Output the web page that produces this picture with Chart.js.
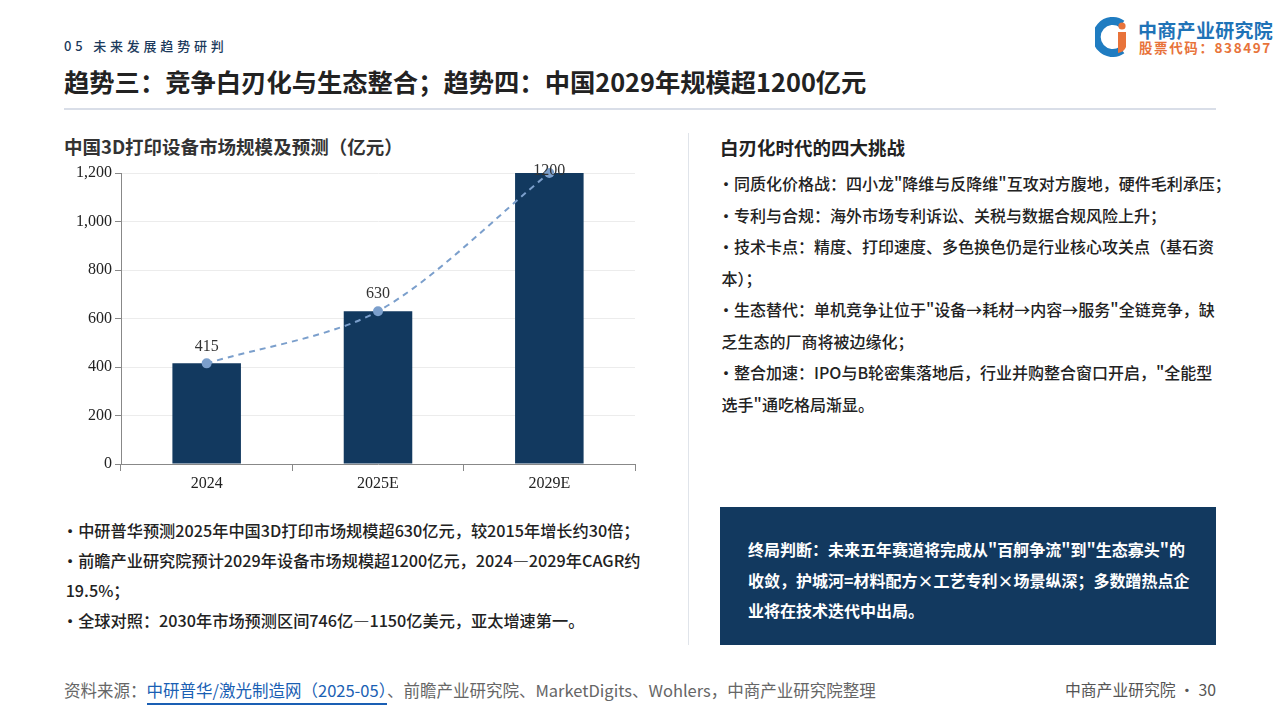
<!DOCTYPE html>
<html lang="zh-CN">
<head>
<meta charset="utf-8">
<title>趋势三：竞争白刃化与生态整合；趋势四：中国2029年规模超1200亿元</title>
<script src="https://cdn.jsdelivr.net/npm/chart.js@4.4.1/dist/chart.umd.min.js"></script>
<style>
  html, body { margin: 0; padding: 0; }
  body {
    width: 1280px; height: 720px; position: relative; overflow: hidden;
    background: #fff; color: #222;
    font-family: "Noto Sans CJK SC", "Noto Sans", sans-serif;
  }
  .abs { position: absolute; white-space: nowrap; }
  .section { left: 64px; top: 36px; font-size: 13px; color: #1b3a5c; letter-spacing: 3.8px; font-weight: 500; }
  .title { left: 64px; top: 63px; font-size: 25.3px; font-weight: 700; color: #222; }
  .rule { left: 64px; top: 108px; width: 1152px; height: 2px; background: #d9dee8; }
  .vrule { left: 688px; top: 133px; width: 1px; height: 512px; background: #e0e4ea; }
  .logo-name { left: 1138px; top: 16px; font-size: 19px; font-weight: 700; color: #1f73b7; letter-spacing: 0.3px; }
  .logo-code { left: 1139px; top: 37px; font-size: 13.5px; font-weight: 700; color: #e8733a; letter-spacing: 1.6px; }
  .chart-title { left: 64px; top: 133px; font-size: 18.5px; font-weight: 600; color: #333; }
  #chartBox { position: absolute; left: 60px; top: 160px; width: 580px; height: 340px; }
  .notes { left: 62px; top: 515px; font-size: 16.2px; line-height: 30px; font-weight: 500; color: #222; }
  .panel-title { left: 720px; top: 134px; font-size: 18.5px; font-weight: 600; color: #222; }
  .challenges { left: 718px; top: 168px; font-size: 16px; line-height: 31.5px; font-weight: 500; color: #222; }
  .verdict { left: 720px; top: 507px; width: 496px; height: 138px; background: #12395f; }
  .verdict-text { left: 748px; top: 534px; font-size: 16px; line-height: 30.5px; font-weight: 700; color: #fff; }
  .footer { left: 64px; top: 678px; font-size: 16.5px; color: #666; }
  .footer .src { color: #1a5fb4; border-bottom: 2px solid #1a5fb4; padding-bottom: 1px; }
  .page { right: 64px; top: 678px; font-size: 15.8px; color: #555; }
</style>
</head>
<body>

<div class="abs section">05 未来发展趋势研判</div>
<div class="abs title">趋势三：竞争白刃化与生态整合；趋势四：中国2029年规模超1200亿元</div>
<div class="abs rule"></div>

<svg class="abs" style="left:1095px;top:17px" width="40" height="40" viewBox="0 0 40 40">
  <path d="M27 7 A16 16 0 1 0 27 33" fill="none" stroke="#1f7cc1" stroke-width="8"/>
  <circle cx="27" cy="9" r="3.6" fill="#e8733a"/>
  <path d="M23 15 H31 V30 A10 10 0 0 1 23 36 Z" fill="#e8733a"/>
</svg>
<div class="abs logo-name">中商产业研究院</div>
<div class="abs logo-code">股票代码：838497</div>

<div class="abs chart-title">中国3D打印设备市场规模及预测（亿元）</div>
<div id="chartBox"><canvas id="marketChart"></canvas></div>

<div class="abs notes">·中研普华预测2025年中国3D打印市场规模超630亿元，较2015年增长约30倍；<br>·前瞻产业研究院预计2029年设备市场规模超1200亿元，2024—2029年CAGR约<br>&nbsp;19.5%；<br>·全球对照：2030年市场预测区间746亿—1150亿美元，亚太增速第一。</div>

<div class="abs vrule"></div>

<div class="abs panel-title">白刃化时代的四大挑战</div>
<div class="abs challenges">·同质化价格战：四小龙"降维与反降维"互攻对方腹地，硬件毛利承压；<br>·专利与合规：海外市场专利诉讼、关税与数据合规风险上升；<br>·技术卡点：精度、打印速度、多色换色仍是行业核心攻关点（基石资<br>&nbsp;本）；<br>·生态替代：单机竞争让位于"设备→耗材→内容→服务"全链竞争，缺<br>&nbsp;乏生态的厂商将被边缘化；<br>·整合加速：IPO与B轮密集落地后，行业并购整合窗口开启，"全能型<br>&nbsp;选手"通吃格局渐显。</div>

<div class="abs verdict"></div>
<div class="abs verdict-text">终局判断：未来五年赛道将完成从"百舸争流"到"生态寡头"的<br>收敛，护城河=材料配方×工艺专利×场景纵深；多数蹭热点企<br>业将在技术迭代中出局。</div>

<div class="abs footer">资料来源：<span class="src">中研普华/激光制造网（2025-05）</span>、前瞻产业研究院、MarketDigits、Wohlers，中商产业研究院整理</div>
<div class="abs page">中商产业研究院 · 30</div>

<script>
// chart data
const categories = ['2024', '2025E', '2029E'];
const marketSize = [415, 630, 1200];     // 亿元
const yMax = 1200;
const yStep = 200;

const BAR_COLOR = '#12395f';
const LINE_COLOR = '#7b9fcc';
const SERIF = '"Liberation Serif", "DejaVu Serif", serif';

// value labels above the trend points
const valueLabels = {
  id: 'valueLabels',
  afterDatasetsDraw(chart) {
    const meta = chart.getDatasetMeta(1);
    const ctx = chart.ctx;
    const top = chart.chartArea.top;
    ctx.save();
    ctx.font = '16px ' + SERIF;
    ctx.fillStyle = '#333';
    ctx.textAlign = 'center';
    ctx.textBaseline = 'bottom';
    meta.data.forEach((pt, i) => {
      const y = Math.max(pt.y - 9, top + 6);
      ctx.fillText(String(marketSize[i]), pt.x, y);
    });
    ctx.restore();
  }
};

new Chart(document.getElementById('marketChart').getContext('2d'), {
  type: 'bar',
  data: {
    labels: categories,
    datasets: [
      {
        type: 'bar',
        data: marketSize,
        backgroundColor: BAR_COLOR,
        categoryPercentage: 1,
        barPercentage: 0.4,
        order: 2
      },
      {
        type: 'line',
        data: marketSize,
        borderColor: LINE_COLOR,
        backgroundColor: LINE_COLOR,
        borderWidth: 2,
        borderDash: [6, 5],
        tension: 0.3,
        pointRadius: 5,
        pointHoverRadius: 5,
        pointBackgroundColor: LINE_COLOR,
        pointBorderWidth: 0,
        fill: false,
        clip: false,
        order: 1
      }
    ]
  },
  options: {
    responsive: true,
    maintainAspectRatio: false,
    animation: false,
    locale: 'en-US',
    layout: { padding: { top: 13, right: 2, left: 0, bottom: 0 } },
    plugins: { legend: { display: false }, tooltip: { enabled: false } },
    scales: {
      x: {
        grid: { offset: true, drawOnChartArea: false, drawTicks: true, tickLength: 7, color: '#888' },
        border: { color: '#888', width: 1 },
        ticks: { color: '#222', font: { family: SERIF, size: 16 }, padding: 3 },
        afterFit(scale) { scale.height = 36; }
      },
      y: {
        min: 0,
        max: yMax,
        ticks: { stepSize: yStep, color: '#222', font: { family: SERIF, size: 16 }, padding: 3 },
        grid: { color: '#ececec', tickLength: 6, tickColor: '#888' },
        border: { color: '#888', width: 1 },
        afterFit(scale) { scale.width = 61; }
      }
    }
  },
  plugins: [valueLabels]
});
</script>
</body>
</html>
